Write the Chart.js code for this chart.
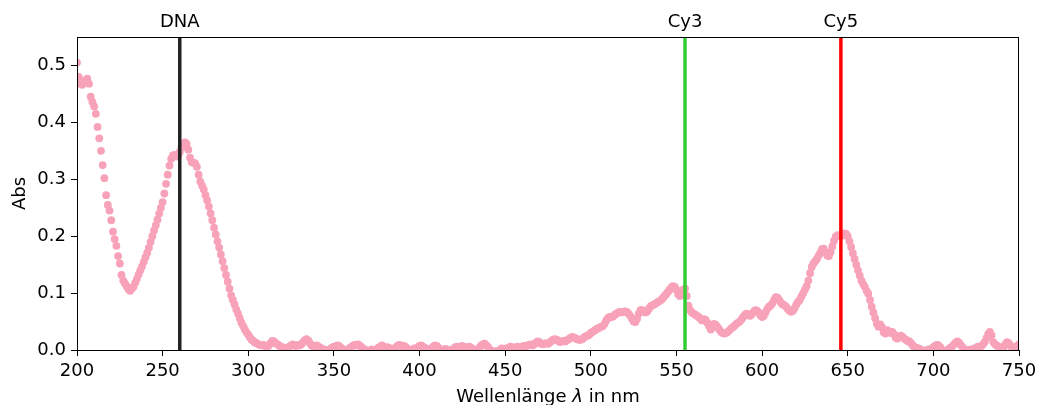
<!DOCTYPE html>
<html>
<head>
<meta charset="utf-8">
<script src="https://cdn.jsdelivr.net/npm/chart.js@4/dist/chart.umd.min.js"></script>
<style>
  html, body { margin: 0; padding: 0; background: #fff; }
  #wrap { width: 1038px; height: 405px; position: relative; }
</style>
</head>
<body>
<div id="wrap"><canvas id="spectrum"></canvas></div>
<script>
/* ================= DATA ================= */

// absorbance spectrum, one reading per nm starting at 200 nm
const WL_START = 200;
const absorbance = [
  0.505, 0.480, 0.468, 0.466, 0.470, 0.474, 0.477, 0.468, 0.445, 0.436,
  0.428, 0.415, 0.392, 0.372, 0.350, 0.325, 0.302, 0.272, 0.255, 0.245,
  0.228, 0.208, 0.195, 0.183, 0.165, 0.152, 0.132, 0.122, 0.117, 0.112,
  0.107, 0.104, 0.108, 0.111, 0.118, 0.125, 0.133, 0.140, 0.147, 0.155,
  0.163, 0.171, 0.180, 0.190, 0.200, 0.210, 0.219, 0.229, 0.240, 0.250,
  0.260, 0.275, 0.292, 0.308, 0.324, 0.336, 0.342, 0.343, 0.340, 0.341,
  0.348, 0.356, 0.362, 0.365, 0.362, 0.352, 0.338, 0.330, 0.329, 0.328,
  0.322, 0.308, 0.296, 0.289, 0.282, 0.272, 0.263, 0.252, 0.240, 0.228,
  0.215, 0.203, 0.191, 0.180, 0.168, 0.156, 0.144, 0.132, 0.120, 0.108,
  0.096, 0.088, 0.080, 0.071, 0.064, 0.056, 0.048, 0.042, 0.036, 0.031,
  0.027, 0.022, 0.018, 0.016, 0.013, 0.012, 0.010, 0.009, 0.008, 0.009,
  0.007, 0.006, 0.008, 0.012, 0.016, 0.015, 0.012, 0.010, 0.008, 0.006,
  0.005, 0.003, 0.002, 0.004, 0.006, 0.008, 0.010, 0.008, 0.007, 0.009,
  0.008, 0.010, 0.014, 0.017, 0.019, 0.017, 0.012, 0.008, 0.006, 0.007,
  0.008, 0.006, 0.004, 0.002, 0.001, 0.000, -0.002, -0.001, 0.002, 0.004,
  0.006, 0.005, 0.008, 0.007, 0.004, 0.002, 0.000, -0.002, 0.000, 0.003,
  0.005, 0.007, 0.009, 0.008, 0.010, 0.008, 0.005, 0.003, 0.001, -0.002,
  -0.003, -0.001, 0.001, 0.000, -0.002, 0.001, 0.004, 0.006, 0.008, 0.006,
  0.003, 0.005, 0.004, 0.001, -0.001, 0.002, 0.004, 0.007, 0.009, 0.008,
  0.006, 0.007, 0.005, 0.002, 0.000, -0.002, 0.001, 0.003, 0.002, 0.005,
  0.007, 0.008, 0.006, 0.004, 0.002, -0.001, 0.001, 0.003, 0.006, 0.008,
  0.007, 0.004, 0.001, -0.002, -0.001, 0.002, 0.001, -0.001, -0.003, 0.000,
  0.003, 0.005, 0.006, 0.004, 0.006, 0.007, 0.005, 0.003, 0.005, 0.006,
  0.004, 0.002, 0.000, -0.002, 0.001, 0.004, 0.008, 0.010, 0.011, 0.008,
  0.005, 0.001, -0.002, -0.003, -0.002, -0.004, -0.002, 0.000, 0.003, 0.002,
  0.001, 0.003, 0.004, 0.006, 0.005, 0.003, 0.004, 0.006, 0.005, 0.004,
  0.006, 0.007, 0.006, 0.008, 0.009, 0.010, 0.008, 0.010, 0.013, 0.015,
  0.014, 0.011, 0.010, 0.011, 0.012, 0.011, 0.013, 0.016, 0.018, 0.019,
  0.018, 0.016, 0.014, 0.015, 0.016, 0.015, 0.017, 0.019, 0.021, 0.023,
  0.022, 0.021, 0.019, 0.018, 0.018, 0.019, 0.022, 0.024, 0.025, 0.027,
  0.030, 0.032, 0.034, 0.036, 0.038, 0.039, 0.041, 0.042, 0.046, 0.052,
  0.056, 0.058, 0.058, 0.059, 0.062, 0.064, 0.066, 0.067, 0.066, 0.067,
  0.068, 0.067, 0.064, 0.060, 0.055, 0.050, 0.049, 0.055, 0.064, 0.070,
  0.070, 0.068, 0.066, 0.068, 0.073, 0.077, 0.079, 0.080, 0.082, 0.084,
  0.086, 0.088, 0.091, 0.095, 0.098, 0.102, 0.106, 0.110, 0.112, 0.111,
  0.106, 0.098, 0.095, 0.100, 0.106, 0.108, 0.095, 0.078, 0.070, 0.066,
  0.064, 0.062, 0.060, 0.058, 0.055, 0.052, 0.054, 0.053, 0.048, 0.042,
  0.036, 0.040, 0.046, 0.044, 0.040, 0.036, 0.032, 0.030, 0.029, 0.030,
  0.032, 0.035, 0.038, 0.040, 0.043, 0.046, 0.048, 0.050, 0.054, 0.058,
  0.062, 0.064, 0.062, 0.060, 0.063, 0.067, 0.070, 0.069, 0.066, 0.061,
  0.058, 0.060, 0.066, 0.072, 0.076, 0.078, 0.082, 0.088, 0.093, 0.092,
  0.088, 0.083, 0.080, 0.079, 0.076, 0.072, 0.069, 0.067, 0.069, 0.074,
  0.080, 0.085, 0.088, 0.094, 0.100, 0.106, 0.112, 0.122, 0.135, 0.146,
  0.152, 0.156, 0.160, 0.166, 0.171, 0.177, 0.178, 0.172, 0.166, 0.165,
  0.172, 0.182, 0.192, 0.199, 0.202, 0.201, 0.200, 0.202, 0.205, 0.204,
  0.200, 0.191, 0.181, 0.170, 0.160, 0.150, 0.140, 0.131, 0.122, 0.116,
  0.111, 0.104, 0.099, 0.088, 0.076, 0.066, 0.056, 0.046, 0.041, 0.045,
  0.040, 0.031, 0.029, 0.035, 0.033, 0.030, 0.032, 0.028, 0.022, 0.020,
  0.024, 0.025, 0.023, 0.020, 0.018, 0.016, 0.015, 0.012, 0.008, 0.005,
  0.004, 0.003, 0.002, 0.000, -0.002, -0.003, -0.001, 0.001, 0.000, 0.002,
  0.005, 0.007, 0.009, 0.008, 0.005, 0.001, -0.002, -0.003, -0.001, 0.002,
  0.004, 0.006, 0.010, 0.013, 0.015, 0.013, 0.009, 0.005, 0.002, 0.000,
  -0.002, 0.000, 0.001, 0.000, 0.002, 0.004, 0.006, 0.005, 0.007, 0.010,
  0.014, 0.021, 0.028, 0.032, 0.026, 0.014, 0.010, 0.008, 0.006, 0.004,
  0.003, 0.005, 0.010, 0.014, 0.012, 0.008, 0.004, 0.001, 0.003, 0.007,
  0.010
];

// dye / DNA reference wavelengths
const markerNames = ["DNA", "Cy3", "Cy5"];
const markerWavelengths = [260, 555, 646];
const markerColors = ["#222222", "#33cc33", "#ff0000"];

const xTicks = [200, 250, 300, 350, 400, 450, 500, 550, 600, 650, 700, 750];
const yTicks = [0.0, 0.1, 0.2, 0.3, 0.4, 0.5];

const FONT = "'DejaVu Sans', sans-serif";

/* ================= DATASETS ================= */

const spectrumPoints = absorbance.map((a, i) => ({ x: WL_START + i, y: a }));

const markerSets = markerWavelengths.map((wl, i) => ({
  type: "line",
  label: markerNames[i],
  data: [{ x: wl, y: 0 }, { x: wl, y: 0.55 }],
  borderColor: markerColors[i],
  borderWidth: 3.5,
  pointRadius: 0,
  fill: false
}));

/* ================= PLUGINS ================= */

// frame, marker labels and axis titles (matplotlib style)
const decorations = {
  id: "decorations",
  afterDatasetsDraw(chart) {
    const { ctx, chartArea, scales } = chart;
    ctx.save();
    ctx.strokeStyle = "#000";
    ctx.lineWidth = 1;
    ctx.strokeRect(chartArea.left + 0.5, chartArea.top + 0.5,
      chartArea.right - chartArea.left - 1, chartArea.bottom - chartArea.top);

    ctx.fillStyle = "#000";
    ctx.font = "18px " + FONT;
    ctx.textAlign = "center";
    ctx.textBaseline = "alphabetic";
    markerWavelengths.forEach((wl, i) => {
      ctx.fillText(markerNames[i], scales.x.getPixelForValue(wl), 27);
    });

    // x title with italic lambda
    const parts = [
      { t: "Wellenlänge ", f: "18px " + FONT },
      { t: "λ", f: "italic 18px " + FONT },
      { t: " in nm", f: "18px " + FONT }
    ];
    let total = 0;
    parts.forEach(p => { ctx.font = p.f; p.w = ctx.measureText(p.t).width; total += p.w; });
    let xPos = (chartArea.left + chartArea.right) / 2 - total / 2;
    ctx.textAlign = "left";
    parts.forEach(p => { ctx.font = p.f; ctx.fillText(p.t, xPos, 402); xPos += p.w; });

    // y title
    ctx.font = "18px " + FONT;
    ctx.translate(25, (chartArea.top + chartArea.bottom) / 2);
    ctx.rotate(-Math.PI / 2);
    ctx.textAlign = "center";
    ctx.fillText("Abs", 0, 0);
    ctx.restore();
  }
};

/* ================= CHART ================= */

const ctx = document.getElementById("spectrum").getContext("2d");

new Chart(ctx, {
  type: "scatter",
  data: {
    datasets: [
      ...markerSets,
      {
        label: "Abs",
        data: spectrumPoints,
        backgroundColor: "#f8a2b9",
        borderWidth: 0,
        pointRadius: 3.9,
        pointHoverRadius: 3.9
      }
    ]
  },
  options: {
    responsive: true,
    maintainAspectRatio: false,
    animation: false,
    layout: { padding: { top: 37, right: 19, left: 0, bottom: 0 } },
    plugins: {
      legend: { display: false },
      tooltip: { enabled: false }
    },
    scales: {
      x: {
        type: "linear",
        min: 200,
        max: 750,
        afterBuildTicks: (scale) => { scale.ticks = xTicks.map(v => ({ value: v })); },
        afterFit: (scale) => {
          scale.height = 55;
          scale.paddingLeft = 0;
          scale.paddingRight = 0;
        },
        border: { display: false },
        grid: { drawOnChartArea: false, tickLength: 6, tickColor: "#000", tickWidth: 1 },
        ticks: {
          color: "#000",
          font: { family: FONT, size: 18 },
          padding: 5,
          maxRotation: 0,
          callback: (v) => String(v)
        }
      },
      y: {
        type: "linear",
        min: 0,
        max: 0.55,
        afterBuildTicks: (scale) => { scale.ticks = yTicks.map(v => ({ value: v })); },
        afterFit: (scale) => {
          scale.width = 77;
          scale.paddingTop = 0;
          scale.paddingBottom = 0;
        },
        border: { display: false },
        grid: { drawOnChartArea: false, tickLength: 6, tickColor: "#000", tickWidth: 1 },
        ticks: {
          color: "#000",
          font: { family: FONT, size: 18 },
          padding: 5,
          callback: (v) => v.toFixed(1)
        }
      }
    }
  },
  plugins: [decorations]
});
</script>
</body>
</html>
